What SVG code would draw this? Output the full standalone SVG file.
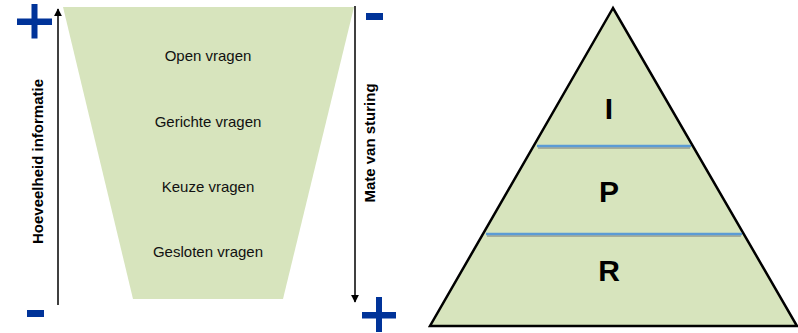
<svg xmlns="http://www.w3.org/2000/svg" width="798" height="333" viewBox="0 0 798 333">
<style>
.sign{fill:#003399}
.lbl{font-family:"Liberation Sans",Arial,sans-serif;font-size:15px;fill:#111;text-anchor:middle}
.axis{font-family:"Liberation Sans",Arial,sans-serif;font-size:15px;font-weight:bold;fill:#000;text-anchor:middle}
.big{font-family:"Liberation Sans",Arial,sans-serif;font-size:30px;font-weight:bold;fill:#000;text-anchor:middle}
.arr{stroke:#000;stroke-width:1.5;fill:none}
.band{stroke:#5b9bd5;stroke-width:2.5}
.bandsh{stroke:#a7ad98;stroke-width:2}
</style>
<defs>
<marker id="ah" viewBox="0 0 10 10" refX="9" refY="5" markerWidth="5.5" markerHeight="5.5" orient="auto" markerUnits="strokeWidth">
<path d="M0,0 L10,5 L0,10 z" fill="#000"/>
</marker>
</defs>
<g id="funnel">
<polygon points="63,7 354,7 283,299 133,299" fill="#d7e4bd"/>
<text class="lbl" x="208" y="61">Open vragen</text>
<text class="lbl" x="208" y="127">Gerichte vragen</text>
<text class="lbl" x="208" y="192">Keuze vragen</text>
<text class="lbl" x="208" y="257">Gesloten vragen</text>
</g>
<g id="pyramid">
<polygon points="613,8 430,326 797,326" fill="#d7e4bd" stroke="#000" stroke-width="2.5" stroke-linejoin="miter"/>
<line class="bandsh" x1="538" y1="148" x2="690" y2="148"/>
<line class="band" x1="537" y1="146" x2="691" y2="146"/>
<line class="bandsh" x1="487" y1="236" x2="741" y2="236"/>
<line class="band" x1="486" y1="234" x2="742" y2="234"/>
<text class="big" x="609" y="119">I</text>
<text class="big" x="609" y="202">P</text>
<text class="big" x="609" y="281">R</text>
</g>
<g id="connectors">
<line class="arr" x1="58" y1="305" x2="58" y2="9" marker-end="url(#ah)"/>
<line class="arr" x1="355" y1="6" x2="355" y2="302" marker-end="url(#ah)"/>
</g>
<g id="axis-left">
<text class="axis" transform="translate(43,161.5) rotate(-90)">Hoeveelheid informatie</text>
</g>
<g id="axis-right">
<text class="axis" transform="translate(375,143) rotate(-90)">Mate van sturing</text>
</g>
<g id="plus-top-left" class="sign">
<rect x="17" y="18.5" width="35" height="6.5"/>
<rect x="31.5" y="4" width="6" height="34.5"/>
</g>
<g id="minus-top-right" class="sign">
<rect x="366" y="13" width="17" height="7"/>
</g>
<g id="minus-bottom-left" class="sign">
<rect x="27" y="310" width="17" height="7"/>
</g>
<g id="plus-bottom-right" class="sign">
<rect x="362" y="312" width="34" height="6.5"/>
<rect x="376" y="297" width="6" height="35"/>
</g>
</svg>
